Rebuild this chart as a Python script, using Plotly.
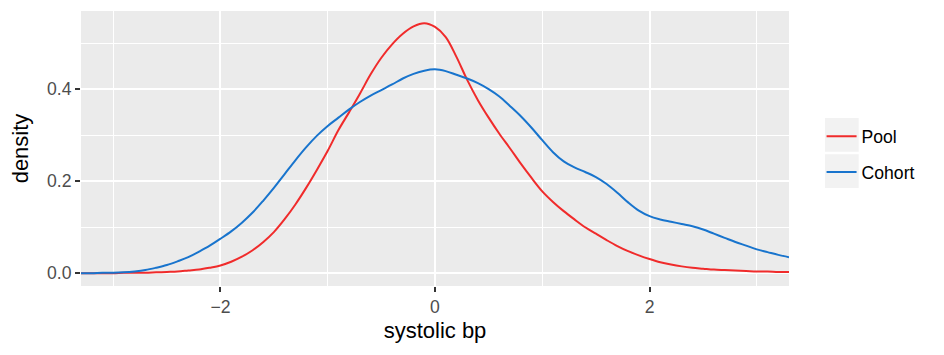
import plotly.graph_objects as go

# x positions (systolic bp, standardized) at which densities were read
x_vals = [round(-3.3 + 0.1 * i, 1) for i in range(67)]

pool_density = [0.000, 0.000, 0.000, 0.000, 0.001, 0.001, 0.001, 0.002, 0.003, 0.004,
                0.006, 0.008, 0.012, 0.017, 0.025, 0.036, 0.050, 0.068, 0.090, 0.118,
                0.150, 0.186, 0.225, 0.266, 0.311, 0.350, 0.390, 0.432, 0.468, 0.497,
                0.520, 0.536, 0.543, 0.535, 0.513, 0.470, 0.420, 0.376, 0.338, 0.303,
                0.271, 0.238, 0.207, 0.178, 0.155, 0.135, 0.117, 0.100, 0.086, 0.072,
                0.059, 0.048, 0.039, 0.031, 0.024, 0.019, 0.015, 0.012, 0.010, 0.008,
                0.007, 0.006, 0.005, 0.004, 0.004, 0.003, 0.003]

cohort_density = [0.000, 0.000, 0.001, 0.001, 0.002, 0.004, 0.007, 0.012, 0.018, 0.026,
                  0.035, 0.047, 0.060, 0.075, 0.091, 0.110, 0.132, 0.158, 0.186, 0.216,
                  0.246, 0.274, 0.299, 0.320, 0.338, 0.356, 0.372, 0.386, 0.398, 0.410,
                  0.423, 0.433, 0.440, 0.443, 0.439, 0.431, 0.423, 0.413, 0.400, 0.384,
                  0.363, 0.341, 0.316, 0.289, 0.263, 0.243, 0.230, 0.220, 0.209, 0.194,
                  0.175, 0.154, 0.136, 0.124, 0.117, 0.112, 0.107, 0.102, 0.095, 0.086,
                  0.077, 0.068, 0.060, 0.052, 0.046, 0.040, 0.035]

series_names = ["Pool", "Cohort"]
series_colors = ["#F02B2B", "#1874CD"]

x_ticks = [-2, 0, 2]
x_tick_labels = ["\u22122", "0", "2"]
y_ticks = [0.0, 0.2, 0.4]
y_tick_labels = ["0.0", "0.2", "0.4"]

FONT = "Liberation Sans, Arial, Helvetica, sans-serif"

fig = go.Figure()
for name, ys, col in zip(series_names, [pool_density, cohort_density], series_colors):
    fig.add_trace(go.Scatter(
        x=x_vals, y=ys, mode="lines", name=name, legendgroup=name,
        line=dict(color=col, width=2, shape="spline", smoothing=1.0),
        hoverinfo="x+y+name",
    ))

fig.update_layout(
    width=944, height=355,
    margin=dict(l=81, r=155, t=11, b=69),
    paper_bgcolor="white",
    plot_bgcolor="#EBEBEB",
    font=dict(family=FONT, color="black"),
    showlegend=True,
    legend=dict(
        x=1.046, xanchor="left", y=0.479, yanchor="middle",
        bgcolor="rgba(0,0,0,0)",
        font=dict(size=17.6, color="black", family=FONT),
        traceorder="grouped", tracegroupgap=10,
        itemwidth=30,
    ),
)

fig.update_xaxes(
    range=[-3.3, 3.3],
    tickmode="array", tickvals=x_ticks, ticktext=x_tick_labels,
    ticks="outside", ticklen=5, tickwidth=1.5, tickcolor="#333333",
    tickfont=dict(size=17.6, color="#4D4D4D"),
    showgrid=True, gridcolor="white", gridwidth=1.6,
    minor=dict(dtick=1, tick0=-3, showgrid=True, gridcolor="white", gridwidth=0.8),
    zeroline=False, showline=False,
    title=dict(text="systolic bp", font=dict(size=22, color="black"), standoff=6),
)
fig.update_yaxes(
    range=[-0.0276, 0.5696],
    tickmode="array", tickvals=y_ticks, ticktext=y_tick_labels,
    ticks="outside", ticklen=5, tickwidth=1.5, tickcolor="#333333",
    tickfont=dict(size=17.6, color="#4D4D4D"),
    showgrid=True, gridcolor="white", gridwidth=1.6,
    minor=dict(dtick=0.1, tick0=0, showgrid=True, gridcolor="white", gridwidth=0.8),
    zeroline=False, showline=False,
    title=dict(text="density", font=dict(size=22, color="black"), standoff=12),
)

# legend key backgrounds (ggplot-style grey boxes)
for y0, y1 in [(118, 151.7), (154, 187.7)]:
    fig.add_shape(type="rect", xref="paper", yref="paper",
                  x0=(825 - 81) / 708, x1=(858.7 - 81) / 708,
                  y0=(285.7 - y1) / 274.7, y1=(285.7 - y0) / 274.7,
                  fillcolor="#F2F2F2", line=dict(width=0), layer="below")

fig.write_html("out.html")
